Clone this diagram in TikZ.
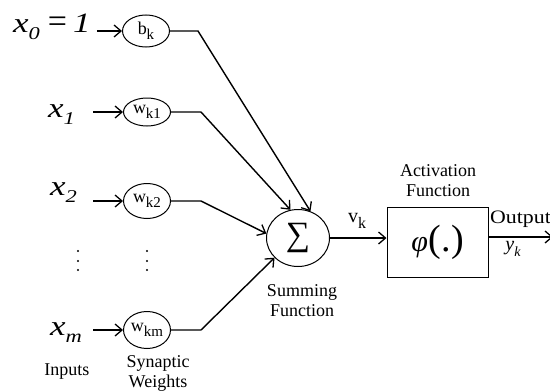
\documentclass[tikz,border=0pt]{standalone}
\usepackage{fontspec}
\setmainfont{Liberation Serif}
\newfontfamily\widevar{Liberation Serif}[FakeStretch=1.25]
\newfontfamily\widetext{Liberation Serif}[FakeStretch=1.15]
\usetikzlibrary{shapes.geometric,arrows.meta}
% lowered subscript, nearly full size
\newcommand\subtxt[2]{#1\raisebox{-0.3em}{\fontsize{15}{15}\selectfont #2}}
% italic variable with lowered index
\newcommand\ivar[2]{x\raisebox{-0.28em}{\fontsize{18}{18}\selectfont #2}}
\begin{document}
\begin{tikzpicture}[x=1pt,y=-1pt,
  wire/.style={line width=1.4pt},
  feed/.style={wire,-{Straight Barb[length=7pt,width=12pt,line width=1.3pt]}},
  weight/.style={ellipse,draw,line width=1pt,minimum width=47pt,inner sep=0pt,font=\fontsize{18}{18}\selectfont},
  lbl/.style={inner sep=0pt,align=center,font=\fontsize{18}{20}\selectfont},
  var/.style={inner sep=0pt,anchor=base west,font=\widevar\fontsize{28}{28}\selectfont\itshape},
  dotmark/.style={fill=black}]
\useasboundingbox (0,0) rectangle (550,391);

% inputs
\node[var] (x0) at (13,32) {\ivar{x}{0}\hspace{8pt}{\rmfamily\upshape\fontsize{34}{34}\selectfont=}\hspace{6pt}1};
\node[var] (x1) at (48,117) {\ivar{x}{1}};
\node[var] (x2) at (50,195) {\ivar{x}{2}};
\node[var] (xm) at (50,335) {\ivar{x}{m}};

% synaptic weights
\node[weight,minimum height=32pt] (b)  at (146,31)  {\subtxt{b}{k}};
\node[weight,minimum height=28pt] (w1) at (147,112) {\subtxt{w}{k1}};
\node[weight,minimum height=35pt] (w2) at (147,201) {\subtxt{w}{k2}};
\node[weight,minimum height=37pt] (wm) at (147,330) {\subtxt{w}{km}};

% elided rows
\foreach \cx in {78,147}
  \foreach \cy in {251,261,270}
    \fill[dotmark] (\cx,\cy) circle (1.2pt);

% summing junction and activation
\node[ellipse,draw,line width=1pt,minimum width=63pt,minimum height=57pt,inner sep=0pt,
      font=\fontsize{34}{34}\selectfont] (sig) at (298,238) {∑};
\node[draw,line width=1pt,minimum width=101pt,minimum height=70pt,inner sep=0pt] (act) at (437.5,242)
  {\raisebox{4pt}{{\fontsize{30}{30}\selectfont\itshape φ}\hspace{1pt}{\fontsize{38}{38}\selectfont(.)}}};
\coordinate (out) at (553,237);

% captions
\node[lbl] (vk) at (357,221) {{\fontsize{20}{20}\selectfont v}\raisebox{-0.3em}{\fontsize{16}{16}\selectfont k}};
\node[lbl] (actcap) at (438,181) {Activation\\Function};
\node[lbl,anchor=base west,font=\widetext\fontsize{19}{19}\selectfont] (outcap) at (490,223) {Output};
\node[lbl] (yk) at (513,249) {{\fontsize{20}{20}\selectfont\itshape y}\raisebox{-0.3em}{\fontsize{14}{14}\selectfont\itshape k}};
\node[lbl] (sumcap) at (302,301) {Summing\\Function};
\node[lbl] (wcap) at (158,373) {Synaptic\\Weights};
\node[lbl] (incap) at (67,372) {Inputs};

% input arrows
\draw[feed,shorten <=6pt]  (x0.east |- b.west)  -- (b.west);
\draw[feed,shorten <=18pt] (x1.east |- w1.west) -- (w1.west);
\draw[feed,shorten <=16pt] (x2.east |- w2.west) -- (w2.west);
\draw[feed,shorten <=11pt] (xm.east |- wm.west) -- (wm.west);

% weighted inputs into the sum
\draw[feed] (b.east)  -- ++(28,0) -- (sig.65);
\draw[feed] (w1.east) -- ++(30,0) -- (sig.105);
\draw[feed] (w2.east) -- ++(30,0) -- (sig.172);
\draw[feed] (wm.east) -- ++(30,0) -- (sig.220);

% forward path
\draw[feed] (sig.east) -- (sig.east -| act.west);
\draw[feed] (act.east |- out) -- (out);
\end{tikzpicture}
\end{document}
